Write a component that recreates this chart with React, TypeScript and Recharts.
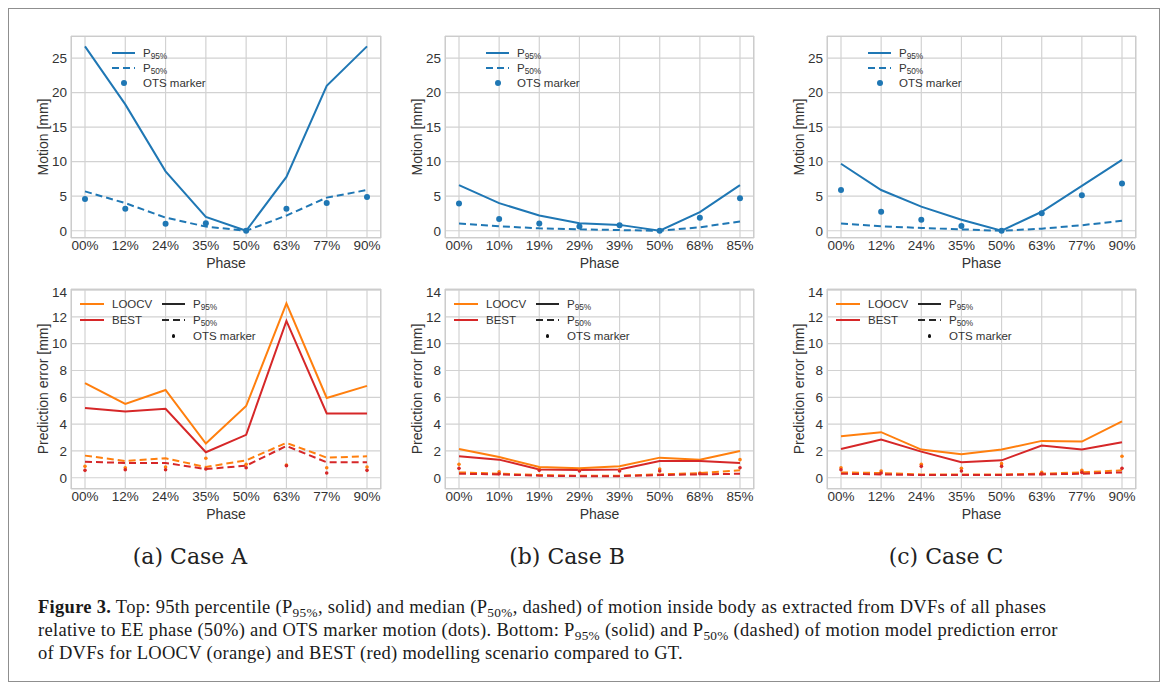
import React from "react";
import { LineChart, Line, XAxis, YAxis, CartesianGrid } from "recharts";

// phases per case
const phasesAC = ["00%", "12%", "24%", "35%", "50%", "63%", "77%", "90%"];
const phasesB = ["00%", "10%", "19%", "29%", "39%", "50%", "68%", "85%"];

// top row: motion [mm]
const motionA95 = [26.7, 18.3, 8.6, 2.0, 0.0, 7.8, 21.0, 26.7];
const motionA50 = [5.7, 4.0, 1.9, 0.6, 0.0, 2.2, 4.8, 5.9];
const otsA = [4.6, 3.2, 1.0, 1.1, 0.0, 3.2, 4.0, 4.9];

const motionB95 = [6.6, 4.0, 2.2, 1.1, 0.85, 0.0, 2.7, 6.6];
const motionB50 = [1.05, 0.65, 0.35, 0.2, 0.1, 0.0, 0.5, 1.35];
const otsB = [3.95, 1.7, 1.05, 0.6, 0.8, 0.0, 1.9, 4.7];

const motionC95 = [9.7, 5.9, 3.5, 1.6, 0.0, 2.75, 6.5, 10.25];
const motionC50 = [1.05, 0.65, 0.4, 0.2, 0.0, 0.3, 0.8, 1.45];
const otsC = [5.9, 2.75, 1.6, 0.7, 0.0, 2.55, 5.15, 6.85];

// bottom row: prediction error [mm]
const looA95 = [7.05, 5.5, 6.55, 2.55, 5.35, 13.0, 5.95, 6.85];
const bestA95 = [5.2, 4.95, 5.15, 1.9, 3.2, 11.7, 4.8, 4.8];
const looA50 = [1.65, 1.25, 1.45, 0.8, 1.3, 2.6, 1.5, 1.6];
const bestA50 = [1.2, 1.1, 1.1, 0.65, 0.9, 2.37, 1.15, 1.15];
const looOtsA = [0.85, 0.75, 0.8, 1.45, 1.0, 0.95, 0.75, 0.8];
const bestOtsA = [0.55, 0.6, 0.6, 0.65, 0.75, 0.9, 0.35, 0.55];

const looB95 = [2.15, 1.55, 0.8, 0.7, 0.85, 1.5, 1.35, 2.0];
const bestB95 = [1.6, 1.35, 0.62, 0.58, 0.62, 1.25, 1.25, 1.1];
const looB50 = [0.4, 0.3, 0.2, 0.15, 0.15, 0.25, 0.35, 0.55];
const bestB50 = [0.3, 0.25, 0.15, 0.12, 0.12, 0.2, 0.25, 0.3];
const looOtsB = [1.0, 0.45, 0.65, 0.55, 0.6, 0.65, 0.35, 1.35];
const bestOtsB = [0.7, 0.3, 0.55, 0.5, 0.5, 0.5, 0.3, 0.75];

const looC95 = [3.1, 3.4, 2.1, 1.75, 2.1, 2.75, 2.7, 4.2];
const bestC95 = [2.15, 2.85, 1.95, 1.15, 1.3, 2.4, 2.1, 2.65];
const looC50 = [0.4, 0.35, 0.25, 0.25, 0.25, 0.3, 0.4, 0.55];
const bestC50 = [0.3, 0.25, 0.2, 0.2, 0.2, 0.25, 0.3, 0.4];
const looOtsC = [0.75, 0.5, 1.0, 0.7, 1.05, 0.4, 0.55, 1.6];
const bestOtsC = [0.6, 0.35, 0.85, 0.5, 0.85, 0.3, 0.4, 0.7];

const motionTicks = [0, 5, 10, 15, 20, 25];
const errorTicks = [0, 2, 4, 6, 8, 10, 12, 14];

const BLUE = "#1f77b4";
const ORANGE = "#ff7f0e";
const RED = "#d62728";
const INK = "#333";
const FONT = '"Liberation Sans", Arial, sans-serif';
const DASH = "7 4";

const cols = [
  { x: 62, w: 310 },
  { x: 436, w: 309 },
  { x: 818, w: 309 },
];
const rows = [
  { y: 27, h: 202 },
  { y: 280, h: 200 },
];

function Sub({ children }: { children: React.ReactNode }) {
  return <span style={{ fontSize: "0.72em", verticalAlign: "-0.3em", lineHeight: 0 }}>{children}</span>;
}

function LegendLine({ color, dashed, x, y, w = 23 }: any) {
  return (
    <svg style={{ position: "absolute", left: x, top: y - 4 }} width={w} height={8}>
      <line x1={0} y1={4} x2={w} y2={4} stroke={color} strokeWidth={2} strokeDasharray={dashed ? DASH : undefined} />
    </svg>
  );
}

function LegendDot({ color, x, y, r }: any) {
  return (
    <div
      style={{
        position: "absolute",
        left: x - r,
        top: y - r,
        width: r * 2,
        height: r * 2,
        borderRadius: "50%",
        background: color,
      }}
    />
  );
}

function LegendText({ x, y, children }: any) {
  return (
    <div style={{ position: "absolute", left: x, top: y - 8, fontSize: 11.5, lineHeight: "16px", color: INK, fontFamily: FONT, whiteSpace: "nowrap" }}>
      {children}
    </div>
  );
}

function Panel({ col, row, data, domain, ticks, yTitle, children, legend }: any) {
  const c = cols[col];
  const r = rows[row];
  return (
    <>
      <div style={{ position: "absolute", left: c.x - 60, top: r.y - 5 }}>
        <LineChart width={c.w + 65} height={r.h + 45} data={data} margin={{ top: 5, right: 5, left: 0, bottom: 0 }}>
          <CartesianGrid stroke="#d2d2d2" strokeWidth={1.2} />
          <XAxis
            dataKey="phase"
            interval={0}
            tickLine={false}
            axisLine={false}
            tickSize={0}
            tickMargin={2}
            height={40}
            padding={{ left: 14, right: 14 }}
            tick={{ fontSize: 13.5, fill: INK, fontFamily: FONT }}
            label={{ value: "Phase", position: "insideBottom", offset: 10, style: { fontSize: 14, fill: INK, fontFamily: FONT } }}
          />
          <YAxis
            type="number"
            width={60}
            domain={domain}
            ticks={ticks}
            allowDataOverflow
            tickLine={false}
            axisLine={false}
            tickSize={0}
            tickMargin={4}
            tick={{ fontSize: 13.5, fill: INK, fontFamily: FONT }}
          />
          {children}
        </LineChart>
      </div>
      <div
        style={{
          position: "absolute",
          left: c.x,
          top: r.y,
          width: c.w,
          height: r.h,
          border: "1.3px solid #cccccc",
          boxSizing: "border-box",
          pointerEvents: "none",
        }}
      />
      <div
        style={{
          position: "absolute",
          left: c.x - 28,
          top: r.y + r.h / 2,
          transform: "translate(-50%, -50%) rotate(-90deg)",
          fontSize: 14,
          color: INK,
          fontFamily: FONT,
          whiteSpace: "nowrap",
        }}
      >
        {yTitle}
      </div>
      {legend}
    </>
  );
}

function MotionPanel({ col, phases, p95, p50, ots }: any) {
  const data = phases.map((p: string, i: number) => ({ phase: p, p95: p95[i], p50: p50[i], ots: ots[i] }));
  const c = cols[col];
  const lx = c.x + 41;
  const ty = rows[0].y;
  const legend = (
    <>
      <LegendLine color={BLUE} x={lx} y={ty + 17} />
      <LegendLine color={BLUE} dashed x={lx} y={ty + 32} />
      <LegendDot color={BLUE} x={lx + 11.5} y={ty + 47} r={3} />
      <LegendText x={lx + 31} y={ty + 17}>P<Sub>95%</Sub></LegendText>
      <LegendText x={lx + 31} y={ty + 32}>P<Sub>50%</Sub></LegendText>
      <LegendText x={lx + 31} y={ty + 47}>OTS marker</LegendText>
    </>
  );
  return (
    <Panel col={col} row={0} data={data} domain={[-1.05, 28.2]} ticks={motionTicks} yTitle="Motion [mm]" legend={legend}>
      <Line dataKey="p95" stroke={BLUE} strokeWidth={2} dot={false} isAnimationActive={false} />
      <Line dataKey="p50" stroke={BLUE} strokeWidth={2} strokeDasharray={DASH} dot={false} isAnimationActive={false} />
      <Line dataKey="ots" stroke="none" dot={{ r: 3, fill: BLUE, stroke: BLUE, strokeWidth: 0 }} isAnimationActive={false} />
    </Panel>
  );
}

function ErrorPanel({ col, phases, loo95, best95, loo50, best50, looOts, bestOts }: any) {
  const data = phases.map((p: string, i: number) => ({
    phase: p,
    loo95: loo95[i],
    best95: best95[i],
    loo50: loo50[i],
    best50: best50[i],
    looOts: looOts[i],
    bestOts: bestOts[i],
  }));
  const c = cols[col];
  const lx = c.x + 9;
  const lx2 = c.x + 91;
  const ty = rows[1].y;
  const legend = (
    <>
      <LegendLine color={ORANGE} x={lx} y={ty + 15} w={24} />
      <LegendLine color={RED} x={lx} y={ty + 31} w={24} />
      <LegendText x={lx + 32} y={ty + 15}>LOOCV</LegendText>
      <LegendText x={lx + 32} y={ty + 31}>BEST</LegendText>
      <LegendLine color="#262626" x={lx2} y={ty + 15} />
      <LegendLine color="#262626" dashed x={lx2} y={ty + 31} />
      <LegendDot color="#111" x={lx2 + 11.5} y={ty + 47} r={1.6} />
      <LegendText x={lx2 + 31} y={ty + 15}>P<Sub>95%</Sub></LegendText>
      <LegendText x={lx2 + 31} y={ty + 31}>P<Sub>50%</Sub></LegendText>
      <LegendText x={lx2 + 31} y={ty + 47}>OTS marker</LegendText>
    </>
  );
  return (
    <Panel col={col} row={1} data={data} domain={[-0.84, 14.08]} ticks={errorTicks} yTitle="Prediction error [mm]" legend={legend}>
      <Line dataKey="loo95" stroke={ORANGE} strokeWidth={2} dot={false} isAnimationActive={false} />
      <Line dataKey="best95" stroke={RED} strokeWidth={2} dot={false} isAnimationActive={false} />
      <Line dataKey="loo50" stroke={ORANGE} strokeWidth={2} strokeDasharray={DASH} dot={false} isAnimationActive={false} />
      <Line dataKey="best50" stroke={RED} strokeWidth={2} strokeDasharray={DASH} dot={false} isAnimationActive={false} />
      <Line dataKey="looOts" stroke="none" dot={{ r: 1.8, fill: ORANGE, stroke: ORANGE, strokeWidth: 0 }} isAnimationActive={false} />
      <Line dataKey="bestOts" stroke="none" dot={{ r: 1.8, fill: RED, stroke: RED, strokeWidth: 0 }} isAnimationActive={false} />
    </Panel>
  );
}

const subCaptions = ["(a) Case A", "(b) Case B", "(c) Case C"];
const subCenters = [181, 558, 937];

export default function App() {
  return (
    <div
      style={{
        position: "relative",
        width: 1152,
        height: 674,
        border: "1px solid #8f8f8f",
        boxSizing: "border-box",
        background: "#fff",
      }}
    >
      <MotionPanel col={0} phases={phasesAC} p95={motionA95} p50={motionA50} ots={otsA} />
      <MotionPanel col={1} phases={phasesB} p95={motionB95} p50={motionB50} ots={otsB} />
      <MotionPanel col={2} phases={phasesAC} p95={motionC95} p50={motionC50} ots={otsC} />
      <ErrorPanel col={0} phases={phasesAC} loo95={looA95} best95={bestA95} loo50={looA50} best50={bestA50} looOts={looOtsA} bestOts={bestOtsA} />
      <ErrorPanel col={1} phases={phasesB} loo95={looB95} best95={bestB95} loo50={looB50} best50={bestB50} looOts={looOtsB} bestOts={bestOtsB} />
      <ErrorPanel col={2} phases={phasesAC} loo95={looC95} best95={bestC95} loo50={looC50} best50={bestC50} looOts={looOtsC} bestOts={bestOtsC} />

      {subCaptions.map((t, i) => (
        <div
          key={t}
          style={{
            position: "absolute",
            left: subCenters[i],
            top: 547,
            transform: "translate(-50%, -50%)",
            fontFamily: '"DejaVu Serif", serif',
            fontSize: 22,
            color: "#222",
            whiteSpace: "nowrap",
          }}
        >
          {t}
        </div>
      ))}

      <div
        style={{
          position: "absolute",
          left: 29,
          top: 587,
          fontFamily: '"Liberation Serif", "Times New Roman", serif',
          fontSize: 18.5,
          letterSpacing: 0.3,
          lineHeight: "23px",
          color: "#1a1a1a",
          whiteSpace: "nowrap",
        }}
      >
        <b>Figure 3.</b> Top: 95th percentile (P<Sub>95%</Sub>, solid) and median (P<Sub>50%</Sub>, dashed) of motion inside body as extracted from DVFs of all phases
        <br />
        relative to EE phase (50%) and OTS marker motion (dots). Bottom: P<Sub>95%</Sub> (solid) and P<Sub>50%</Sub> (dashed) of motion model prediction error
        <br />
        of DVFs for LOOCV (orange) and BEST (red) modelling scenario compared to GT.
      </div>
    </div>
  );
}
